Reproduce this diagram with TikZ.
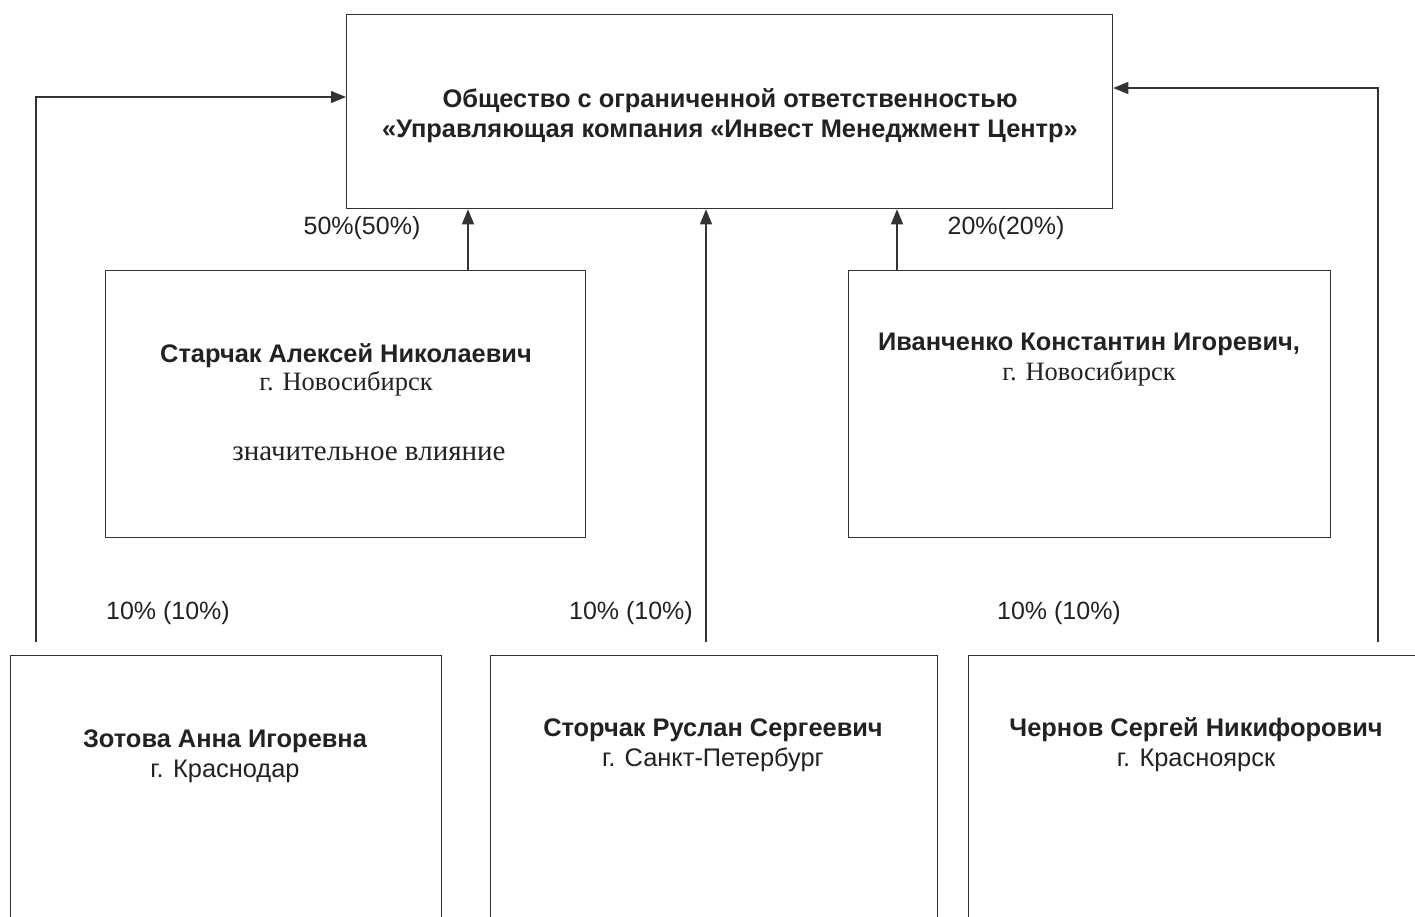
\documentclass[tikz,border=0pt]{standalone}
\usepackage{fontspec}
\setmainfont{Liberation Serif}
\setsansfont{Liberation Sans}
\usetikzlibrary{arrows.meta}
\definecolor{ink}{HTML}{333333}
\definecolor{txt}{HTML}{222222}
\tikzset{
  box/.style={draw=ink, line width=1.3pt, inner sep=0pt, anchor=north west},
  bname/.style={font=\sffamily\bfseries\fontsize{25.4}{30}\selectfont, text=txt, inner sep=0pt},
  scity/.style={font=\fontsize{26.5}{30}\selectfont, text=txt, inner sep=0pt},
  sinfl/.style={font=\fontsize{29}{33}\selectfont, text=txt, inner sep=0pt},
  ccity/.style={font=\sffamily\fontsize{25.4}{30}\selectfont, text=txt, inner sep=0pt},
  pct/.style={font=\sffamily\fontsize{25}{30}\selectfont, text=txt, inner sep=0pt},
  conn/.style={draw=ink, line width=1.3pt, -{Triangle[length=15pt,width=12pt]}},
}
\begin{document}
\begin{tikzpicture}[x=1pt,y=-1pt]
\useasboundingbox (0,0) rectangle (1415,916);
\clip (0,0) rectangle (1415,916);
\fill[white] (0,0) rectangle (1415,916);
% boxes
\node[box, minimum width=766pt, minimum height=194pt] (uk) at (346,14) {};
\node[box, minimum width=480pt, minimum height=267pt] (st) at (105,270) {};
\node[box, minimum width=482pt, minimum height=267pt] (iv) at (848,270) {};
\node[box, minimum width=431pt, minimum height=300pt] (zo) at (10,655) {};
\node[box, minimum width=447pt, minimum height=300pt] (sr) at (490,655) {};
\node[box, minimum width=480pt, minimum height=300pt] (ch) at (968,655) {};
% texts
\node[bname] (ukt1) at (730,101) {Общество с ограниченной ответственностью};
\node[bname] (ukt2) at (730,131) {«Управляющая компания «Инвест Менеджмент Центр»};
\node[bname] (stn) at (346,356) {Старчак Алексей Николаевич};
\node[scity] (stc) at (346,384) {г. Новосибирск};
\node[sinfl] (stv) at (369,454) {значительное влияние};
\node[bname] (ivn) at (1089,344) {Иванченко Константин Игоревич,};
\node[scity] (ivc) at (1089,374) {г. Новосибирск};
\node[bname] (zon) at (225,741) {Зотова Анна Игоревна};
\node[ccity] (zoc) at (225,771) {г. Краснодар};
\node[bname] (srn) at (713,730) {Сторчак Руслан Сергеевич};
\node[ccity] (src) at (713,760) {г. Санкт-Петербург};
\node[bname] (chn) at (1196,730) {Чернов Сергей Никифорович};
\node[ccity] (chc) at (1196,760) {г. Красноярск};
% percentages
\node[pct] (p1) at (362,228) {50\%(50\%)};
\node[pct] (p2) at (1006,228) {20\%(20\%)};
\node[pct] (p3) at (168,613) {10\% (10\%)};
\node[pct] (p4) at (631,613) {10\% (10\%)};
\node[pct] (p5) at (1059,613) {10\% (10\%)};
% connector ends
\coordinate (zs) at (36,642);
\coordinate (zc) at (36,97);
\coordinate (ss) at (706,642);
\coordinate (cs) at (1378,642);
\coordinate (cc) at (1378,88);
% connectors
\draw[conn] (st.north -| 468,0) -- (uk.south -| 468,0);
\draw[conn] (iv.north -| 897,0) -- (uk.south -| 897,0);
\draw[conn] (ss) -- (uk.south -| ss);
\draw[conn] (zs) -- (zc) -- (uk.west |- zc);
\draw[conn] (cs) -- (cc) -- (uk.east |- cc);
\end{tikzpicture}
\end{document}
